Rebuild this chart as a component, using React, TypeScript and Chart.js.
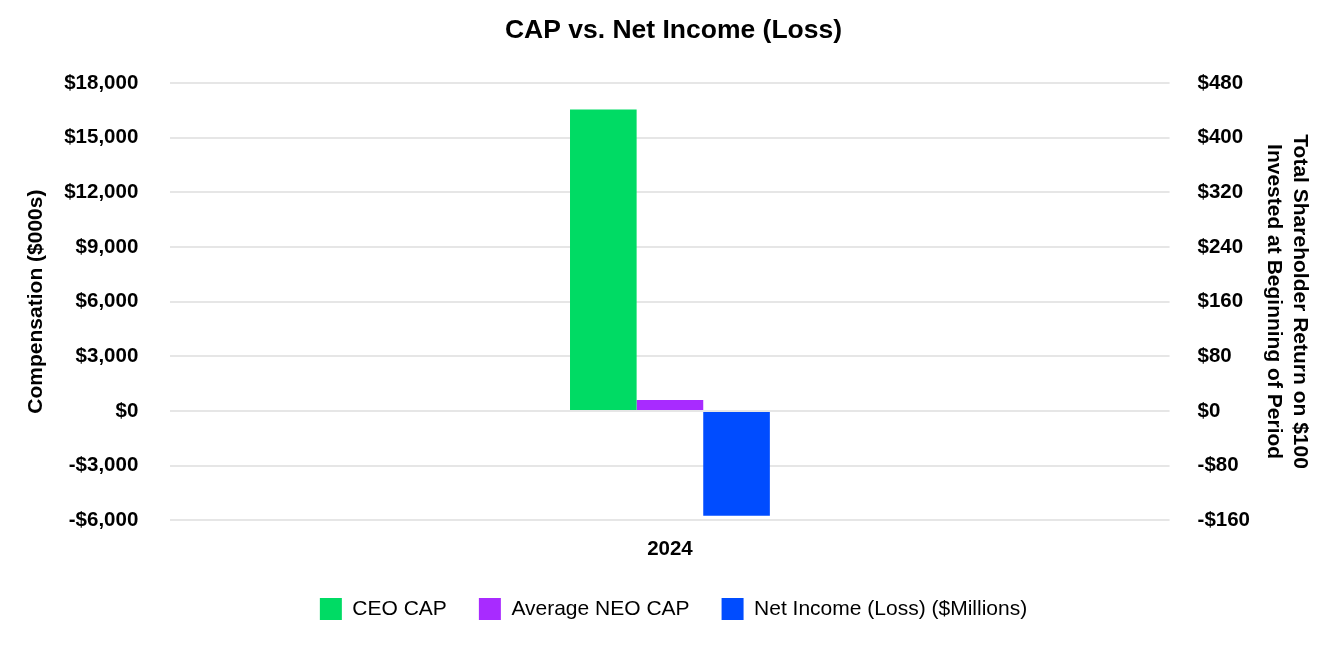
import React, { useEffect, useRef } from "react";
import { Chart, registerables } from "chart.js";

Chart.register(...registerables);

const categories = ["2024"];
const ceoCap = [16550];
const avgNeoCap = [600];
const netIncome = [-5760];
const seriesLabels = ["CEO CAP", "Average NEO CAP", "Net Income (Loss) ($Millions)"];
const seriesColors = ["#00DB64", "#A82BFF", "#004CFF"];

const leftMin = -6000;
const leftMax = 18000;
const leftStep = 3000;
const rightMin = -160;
const rightMax = 480;
const rightStep = 80;

const FONT = "'Liberation Sans', Arial, Helvetica, sans-serif";

function money(v: number): string {
  const s = "$" + Math.abs(v).toLocaleString("en-US");
  return v < 0 ? "-" + s : s;
}

export default function App() {
  const ref = useRef<HTMLCanvasElement | null>(null);

  useEffect(() => {
    document.body.style.margin = "0";
    const canvas = ref.current;
    if (!canvas) return;
    const chart = new Chart(canvas, {
      type: "bar",
      data: {
        labels: categories,
        datasets: [
          { label: seriesLabels[0], data: ceoCap, backgroundColor: seriesColors[0], yAxisID: "y" },
          { label: seriesLabels[1], data: avgNeoCap, backgroundColor: seriesColors[1], yAxisID: "y" },
          { label: seriesLabels[2], data: netIncome, backgroundColor: seriesColors[2], yAxisID: "y" },
        ],
      },
      options: {
        responsive: false,
        animation: false,
        layout: { padding: { left: 24, right: 21, top: 0, bottom: 22 } },
        datasets: { bar: { categoryPercentage: 0.2, barPercentage: 1 } },
        plugins: {
          title: {
            display: true,
            text: "CAP vs. Net Income (Loss)",
            color: "#000",
            font: { family: FONT, size: 26.5, weight: "bold" },
            padding: { top: 15, bottom: 36.2 },
          },
          legend: {
            position: "bottom",
            labels: {
              color: "#000",
              font: { family: FONT, size: 21 },
              boxWidth: 22,
              boxHeight: 22,
              padding: 32,
            },
          },
          tooltip: { enabled: false },
        },
        scales: {
          x: {
            grid: { display: false, drawTicks: false },
            border: { display: false },
            ticks: { color: "#000", font: { family: FONT, size: 20.5, weight: "bold" }, padding: 17 },
            afterFit: (s: any) => {
              s.height = s.height - 12.8;
            },
          },
          y: {
            position: "left",
            min: leftMin,
            max: leftMax,
            ticks: {
              stepSize: leftStep,
              color: "#000",
              font: { family: FONT, size: 20.5, weight: "bold" },
              padding: 32,
              callback: (v: any) => money(Number(v)),
            },
            grid: { color: "#e6e6e6", lineWidth: 2, drawTicks: false },
            border: { display: false },
            title: {
              display: true,
              text: "Compensation ($000s)",
              color: "#000",
              font: { family: FONT, size: 21, weight: "bold" },
              padding: { top: 0, bottom: 4 },
            },
            afterFit: (s: any) => {
              s.width = s.width - 21;
            },
          },
          y1: {
            position: "right",
            min: rightMin,
            max: rightMax,
            ticks: {
              stepSize: rightStep,
              color: "#000",
              font: { family: FONT, size: 20.5, weight: "bold" },
              padding: 28,
              callback: (v: any) => money(Number(v)),
            },
            grid: { display: false, drawTicks: false },
            border: { display: false },
            title: {
              display: true,
              text: ["Total Shareholder Return on $100", "Invested at Beginning of Period"],
              color: "#000",
              font: { family: FONT, size: 21, weight: "bold", lineHeight: 1.25 },
              padding: { top: 10, bottom: 0 },
            },
            afterFit: (s: any) => {
              s.width = s.width - 17.5;
            },
          },
        },
      },
    });
    return () => chart.destroy();
  }, []);

  return (
    <div style={{ width: 1344, height: 652, background: "#fff" }}>
      <canvas ref={ref} width={1344} height={652} style={{ display: "block" }} />
    </div>
  );
}
